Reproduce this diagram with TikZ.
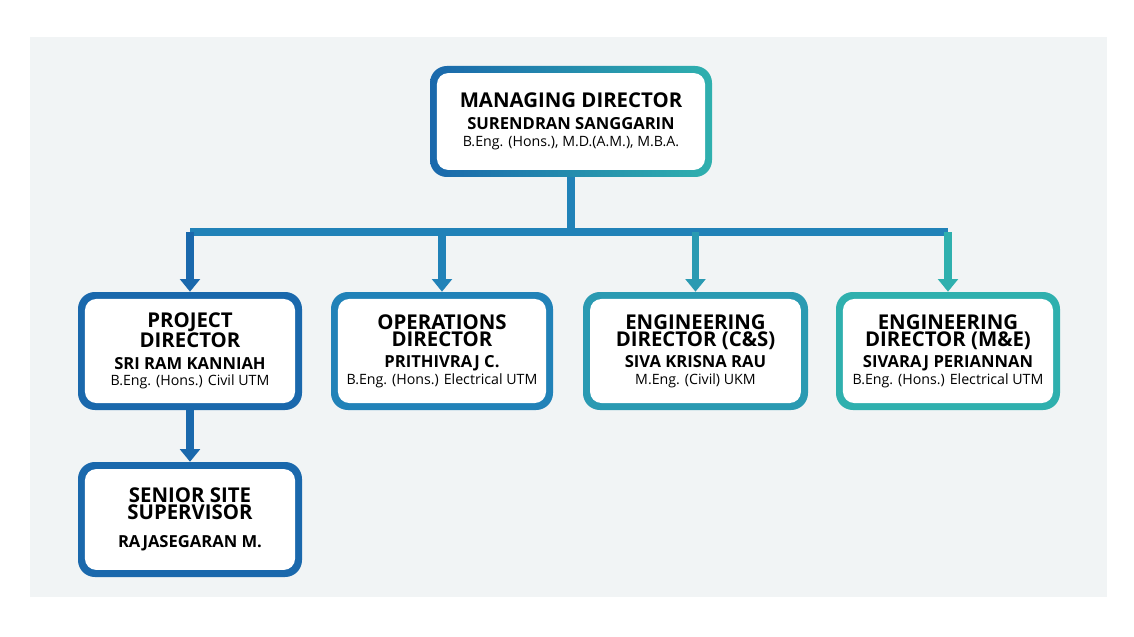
\documentclass[tikz,border=0pt]{standalone}
\usepackage{fontspec}
\setmainfont{Open Sans}
\usetikzlibrary{arrows.meta}
\definecolor{cblue}{HTML}{1A68AC}
\definecolor{cmid}{HTML}{2182B8}
\definecolor{cteal}{HTML}{2A9AB2}
\definecolor{cgreen}{HTML}{2FB0AE}
\definecolor{panel}{HTML}{F1F4F5}
\tikzset{
  inner/.style={fill=white, rounded corners=8pt, align=center, inner sep=0pt},
  link/.style={line width=5pt, -{Triangle[width=14pt,length=9pt]}},
}
\newcommand\tl[1]{{\bfseries\fontsize{14.5}{16}\selectfont #1}}
\newcommand\nm[1]{{\bfseries\fontsize{11.8}{14}\selectfont #1}}
\newcommand\dg[1]{{\fontsize{10.1}{12}\selectfont #1}}
\begin{document}
\begin{tikzpicture}[x=0.025cm,y=-0.025cm]
		%%%%% START %%%%%
		\useasboundingbox (0,0) rectangle (1134,637);
		\fill[white] (0,0) rectangle (1134,637);
		\fill[panel] (30,37) rectangle (1107,597);
		
		% frames
		\shade[left color=cblue, right color=cgreen, rounded corners=12pt] (430,66) rectangle (712,177);
		\fill[cblue, rounded corners=12pt] (78,292) rectangle (302,410);
		\fill[cmid, rounded corners=12pt] (331,292) rectangle (553,410);
		\fill[cteal, rounded corners=12pt] (583,292) rectangle (808,410);
		\fill[cgreen, rounded corners=12pt] (836,292) rectangle (1060,410);
		\fill[cblue, rounded corners=12pt] (78,462) rectangle (302,577);
		
		% boxes
		\node[inner, minimum width=6.7cm, minimum height=2.42cm] (md) at (571,121.5)
		  {\tl{MANAGING DIRECTOR}\\[4pt]\nm{SURENDRAN SANGGARIN}\\\dg{B.Eng. (Hons.), M.D.(A.M.), M.B.A.}};
		\node[inner, minimum width=5.25cm, minimum height=2.6cm] (pd) at (190,351)
		  {\tl{PROJECT}\\\tl{DIRECTOR}\\[3pt]\nm{SRI RAM KANNIAH}\\\dg{B.Eng. (Hons.) Civil UTM}};
		\node[inner, minimum width=5.2cm, minimum height=2.6cm] (od) at (442,351)
		  {\tl{OPERATIONS}\\\tl{DIRECTOR}\\[3pt]\nm{PRITHIVRAJ C.}\\\dg{B.Eng. (Hons.) Electrical UTM}};
		\node[inner, minimum width=5.27cm, minimum height=2.6cm] (cs) at (695.5,351)
		  {\tl{ENGINEERING}\\\tl{DIRECTOR (C\&S)}\\[3pt]\nm{SIVA KRISNA RAU}\\\dg{M.Eng. (Civil) UKM}};
		\node[inner, minimum width=5.25cm, minimum height=2.6cm] (me) at (948,351)
		  {\tl{ENGINEERING}\\\tl{DIRECTOR (M\&E)}\\[3pt]\nm{SIVARAJ PERIANNAN}\\\dg{B.Eng. (Hons.) Electrical UTM}};
		\node[inner, minimum width=5.25cm, minimum height=2.52cm] (ss) at (190,519.5)
		  {\tl{SENIOR SITE}\\\tl{SUPERVISOR}\\[8pt]\nm{RAJASEGARAN M.}};
		
		% connectors
		\coordinate (bus) at (571,232);
		\coordinate (busl) at (190,232);
		\coordinate (busr) at (948,232);
		\draw[line width=5pt, cmid] ([yshift=-0.175cm]md.south) -- (bus);
		\draw[line width=5pt, cmid] (busl) -- (busr);
		\draw[link, cblue] (busl) -- ([yshift=0.175cm]pd.north);
		\draw[link, cmid] (442,232) -- ([yshift=0.175cm]od.north);
		\draw[link, cteal] (695.5,232) -- ([yshift=0.175cm]cs.north);
		\draw[link, cgreen] (busr) -- ([yshift=0.175cm]me.north);
		\draw[link, cblue] ([yshift=-0.175cm]pd.south) -- ([yshift=0.175cm]ss.north);
		
		%%%%% END %%%%%
	\end{tikzpicture}
\end{document}
